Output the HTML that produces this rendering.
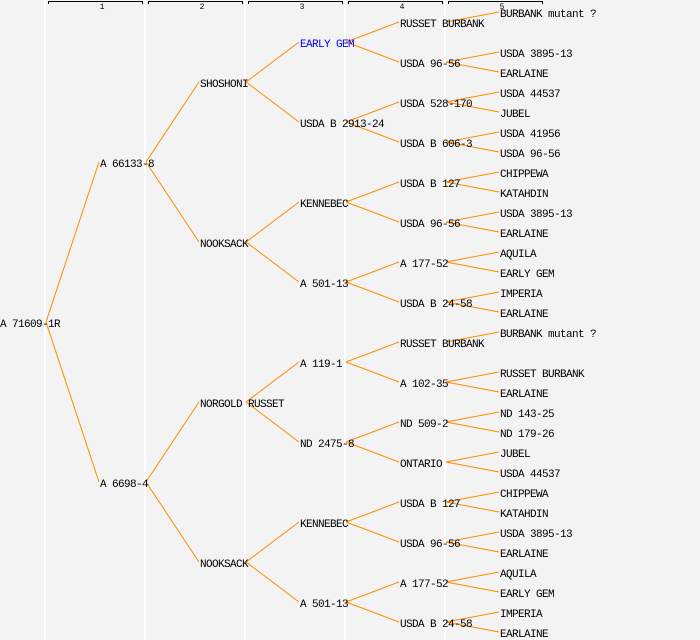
<!DOCTYPE html>
<html><head><meta charset="utf-8"><style>
html,body{margin:0;padding:0;background:#f3f3f3;width:700px;height:640px;overflow:hidden}
svg{display:block}
text{font-family:"Liberation Mono",monospace;font-size:11px;letter-spacing:-0.6px;fill:#000}
</style></head><body>
<svg width="700" height="640" xmlns="http://www.w3.org/2000/svg">
<rect width="700" height="640" fill="#f3f3f3"/>
<g stroke="#ffffff" stroke-width="2">
<line x1="45" y1="0" x2="45" y2="640"/><line x1="145" y1="0" x2="145" y2="640"/><line x1="245" y1="0" x2="245" y2="640"/><line x1="345" y1="0" x2="345" y2="640"/><line x1="445" y1="0" x2="445" y2="640"/>
</g>
<g stroke="#000" stroke-width="1" fill="none">
<path d="M48.5 4V1.5H142.5V4"/><path d="M148.5 4V1.5H242.5V4"/><path d="M248.5 4V1.5H342.5V4"/><path d="M348.5 4V1.5H442.5V4"/><path d="M448.5 4V1.5H542.5V4"/>
</g>
<g text-anchor="middle">
<text x="102" y="9" style="font-size:8px;letter-spacing:0">1</text><text x="202" y="9" style="font-size:8px;letter-spacing:0">2</text><text x="302" y="9" style="font-size:8px;letter-spacing:0">3</text><text x="402" y="9" style="font-size:8px;letter-spacing:0">4</text><text x="502" y="9" style="font-size:8px;letter-spacing:0">5</text>
</g>
<g stroke="#ff8a00" stroke-width="1">
<line x1="46" y1="322" x2="99" y2="162"/><line x1="46" y1="322" x2="99" y2="482"/>
<line x1="146" y1="162" x2="199" y2="82"/><line x1="146" y1="162" x2="199" y2="242"/>
<line x1="146" y1="482" x2="199" y2="402"/><line x1="146" y1="482" x2="199" y2="562"/>
<line x1="246" y1="82" x2="299" y2="42"/><line x1="246" y1="82" x2="299" y2="122"/>
<line x1="246" y1="242" x2="299" y2="202"/><line x1="246" y1="242" x2="299" y2="282"/>
<line x1="246" y1="402" x2="299" y2="362"/><line x1="246" y1="402" x2="299" y2="442"/>
<line x1="246" y1="562" x2="299" y2="522"/><line x1="246" y1="562" x2="299" y2="602"/>
<line x1="346" y1="42" x2="399" y2="22"/><line x1="346" y1="42" x2="399" y2="62"/>
<line x1="346" y1="122" x2="399" y2="102"/><line x1="346" y1="122" x2="399" y2="142"/>
<line x1="346" y1="202" x2="399" y2="182"/><line x1="346" y1="202" x2="399" y2="222"/>
<line x1="346" y1="282" x2="399" y2="262"/><line x1="346" y1="282" x2="399" y2="302"/>
<line x1="346" y1="362" x2="399" y2="342"/><line x1="346" y1="362" x2="399" y2="382"/>
<line x1="346" y1="442" x2="399" y2="422"/><line x1="346" y1="442" x2="399" y2="462"/>
<line x1="346" y1="522" x2="399" y2="502"/><line x1="346" y1="522" x2="399" y2="542"/>
<line x1="346" y1="602" x2="399" y2="582"/><line x1="346" y1="602" x2="399" y2="622"/>
<line x1="446" y1="22" x2="499" y2="12"/>
<line x1="446" y1="62" x2="499" y2="52"/><line x1="446" y1="62" x2="499" y2="72"/>
<line x1="446" y1="102" x2="499" y2="92"/><line x1="446" y1="102" x2="499" y2="112"/>
<line x1="446" y1="142" x2="499" y2="132"/><line x1="446" y1="142" x2="499" y2="152"/>
<line x1="446" y1="182" x2="499" y2="172"/><line x1="446" y1="182" x2="499" y2="192"/>
<line x1="446" y1="222" x2="499" y2="212"/><line x1="446" y1="222" x2="499" y2="232"/>
<line x1="446" y1="262" x2="499" y2="252"/><line x1="446" y1="262" x2="499" y2="272"/>
<line x1="446" y1="302" x2="499" y2="292"/><line x1="446" y1="302" x2="499" y2="312"/>
<line x1="446" y1="342" x2="499" y2="332"/>
<line x1="446" y1="382" x2="499" y2="372"/><line x1="446" y1="382" x2="499" y2="392"/>
<line x1="446" y1="422" x2="499" y2="412"/><line x1="446" y1="422" x2="499" y2="432"/>
<line x1="446" y1="462" x2="499" y2="452"/><line x1="446" y1="462" x2="499" y2="472"/>
<line x1="446" y1="502" x2="499" y2="492"/><line x1="446" y1="502" x2="499" y2="512"/>
<line x1="446" y1="542" x2="499" y2="532"/><line x1="446" y1="542" x2="499" y2="552"/>
<line x1="446" y1="582" x2="499" y2="572"/><line x1="446" y1="582" x2="499" y2="592"/>
<line x1="446" y1="622" x2="499" y2="612"/><line x1="446" y1="622" x2="499" y2="632"/>
</g>
<g>
<text x="0" y="327">A 71609-1R</text>
<text x="100" y="167">A 66133-8</text><text x="100" y="487">A 6698-4</text>
<text x="200" y="87">SHOSHONI</text><text x="200" y="247">NOOKSACK</text><text x="200" y="407">NORGOLD RUSSET</text><text x="200" y="567">NOOKSACK</text>
<text x="300" y="47" style="fill:#0000ff">EARLY GEM</text><text x="300" y="127">USDA B 2913-24</text><text x="300" y="207">KENNEBEC</text><text x="300" y="287">A 501-13</text>
<text x="300" y="367">A 119-1</text><text x="300" y="447">ND 2475-8</text><text x="300" y="527">KENNEBEC</text><text x="300" y="607">A 501-13</text>
<text x="400" y="27">RUSSET BURBANK</text><text x="400" y="67">USDA 96-56</text><text x="400" y="107">USDA 528-170</text><text x="400" y="147">USDA B 606-3</text>
<text x="400" y="187">USDA B 127</text><text x="400" y="227">USDA 96-56</text><text x="400" y="267">A 177-52</text><text x="400" y="307">USDA B 24-58</text>
<text x="400" y="347">RUSSET BURBANK</text><text x="400" y="387">A 102-35</text><text x="400" y="427">ND 509-2</text><text x="400" y="467">ONTARIO</text>
<text x="400" y="507">USDA B 127</text><text x="400" y="547">USDA 96-56</text><text x="400" y="587">A 177-52</text><text x="400" y="627">USDA B 24-58</text>
<text x="500" y="17">BURBANK mutant ?</text>
<text x="500" y="57">USDA 3895-13</text><text x="500" y="77">EARLAINE</text>
<text x="500" y="97">USDA 44537</text><text x="500" y="117">JUBEL</text>
<text x="500" y="137">USDA 41956</text><text x="500" y="157">USDA 96-56</text>
<text x="500" y="177">CHIPPEWA</text><text x="500" y="197">KATAHDIN</text>
<text x="500" y="217">USDA 3895-13</text><text x="500" y="237">EARLAINE</text>
<text x="500" y="257">AQUILA</text><text x="500" y="277">EARLY GEM</text>
<text x="500" y="297">IMPERIA</text><text x="500" y="317">EARLAINE</text>
<text x="500" y="337">BURBANK mutant ?</text>
<text x="500" y="377">RUSSET BURBANK</text><text x="500" y="397">EARLAINE</text>
<text x="500" y="417">ND 143-25</text><text x="500" y="437">ND 179-26</text>
<text x="500" y="457">JUBEL</text><text x="500" y="477">USDA 44537</text>
<text x="500" y="497">CHIPPEWA</text><text x="500" y="517">KATAHDIN</text>
<text x="500" y="537">USDA 3895-13</text><text x="500" y="557">EARLAINE</text>
<text x="500" y="577">AQUILA</text><text x="500" y="597">EARLY GEM</text>
<text x="500" y="617">IMPERIA</text><text x="500" y="637">EARLAINE</text>
</g>
</svg>
</body></html>
